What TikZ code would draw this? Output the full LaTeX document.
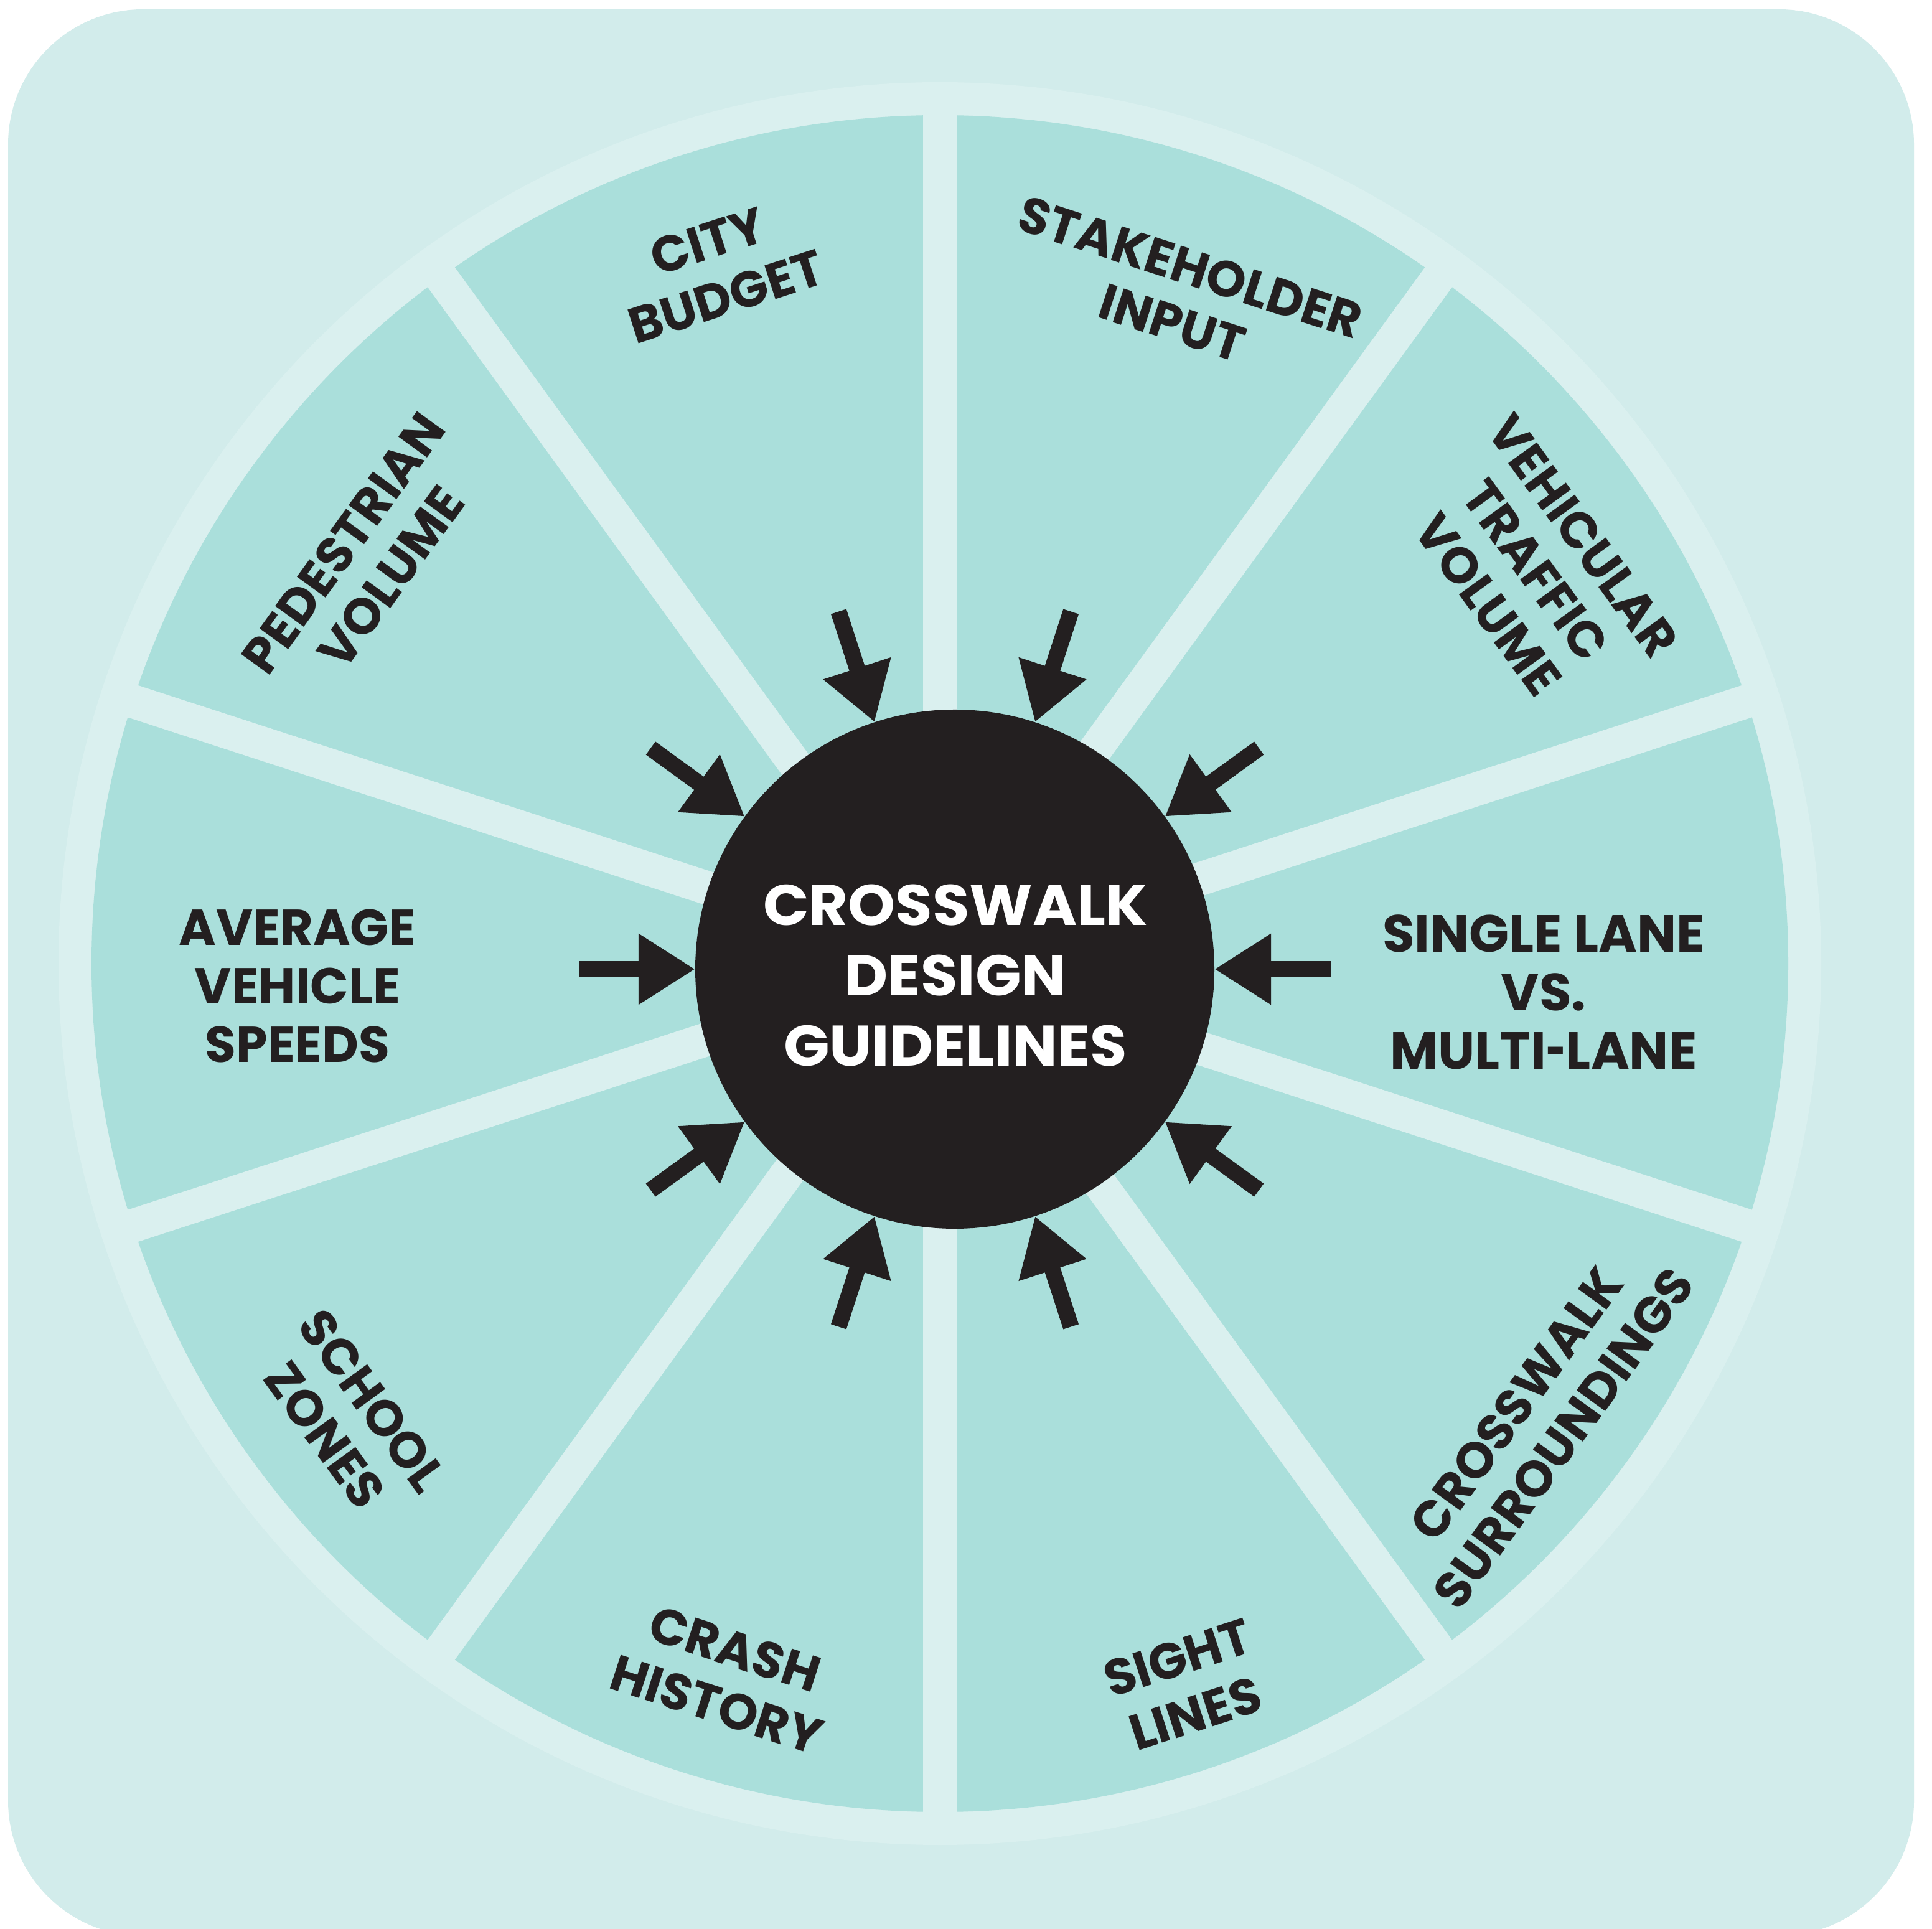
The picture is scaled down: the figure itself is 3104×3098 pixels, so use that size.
\documentclass[tikz,border=0pt]{standalone}
\usepackage{graphicx}
\usepackage{fontspec}
\setmainfont{Poppins}
\usetikzlibrary{arrows.meta,calc}
\definecolor{bgc}{HTML}{D2ECEB}
\definecolor{ringc}{HTML}{DAF0EF}
\definecolor{wedgec}{HTML}{AADFDB}
\definecolor{ink}{HTML}{231F20}
\newcommand{\ttlwide}[1]{\scalebox{1.05}[1]{#1}}
\newcommand{\shorthyph}{\scalebox{0.65}[1]{-}}
\begin{document}
\begin{tikzpicture}[x=1pt,y=1pt,
  lbl/.style={font=\fontsize{81}{94}\selectfont\bfseries, text=ink, align=center, inner sep=0pt},
  lblwide/.style={font=\fontsize{84}{94}\selectfont\bfseries, text=ink, align=center, inner sep=0pt},
  ttl/.style={font=\fontsize{92}{113}\selectfont\bfseries, text=white, align=center, inner sep=0pt},
  arr/.style={draw=ink, line width=26pt, -{Triangle[length=91pt,width=108pt,fill=ink]}},
  gapline/.style={draw=ringc, line width=54pt},
]
\useasboundingbox (0,0) rectangle (3104,3098);
\clip (0,0) rectangle (3104,3098);
\fill[white] (0,0) rectangle (3104,3098);
\fill[bgc, rounded corners=217pt] (13,-12) rectangle (3075,3083);
\coordinate (W) at (1510,1550);
\fill[ringc] (W) circle[radius=1416pt];
\fill[wedgec] (W) circle[radius=1363pt];
\foreach \a in {90,126,162,198,234}{
  \coordinate (ga\a) at ($(W)+(\a:1390)$);
  \coordinate (gb\a) at ($(W)+(\a+180:1390)$);
  \draw[gapline] (ga\a) -- (gb\a);
}
\node[circle, fill=ink, minimum size=834pt, inner sep=0pt] (core) at (1534,1541) {};
\node[ttl] (title) at (1535,1531) {\ttlwide{CROSSWALK}\\\ttlwide{DESIGN}\\\ttlwide{GUIDELINES}};
\foreach \a in {0,36,...,324}{
  \coordinate (tail\a) at ($(core.center)+(\a:604)$);
  \draw[arr] (tail\a) -- (core.\a);
}
\node[lbl, rotate=18] (city) at (1152,2666) {CITY\\BUDGET};
\node[lbl, rotate=-18] (stake) at (1898,2624) {STAKEHOLDER\\INPUT};
\node[lbl, rotate=-54] (vehic) at (2467,2182) {VEHICULAR\\TRAFFIC\\VOLUME};
\node[lblwide] (single) at (2480,1504) {SINGLE LANE\\VS.\\MULTI\shorthyph LANE};
\node[lbl] (avg) at (478,1514) {AVERAGE\\VEHICLE\\SPEEDS};
\node[lbl, rotate=54] (ped) at (590,2198) {PEDESTRIAN\\VOLUME};
\node[lbl, rotate=-54] (school) at (560,820) {SCHOOL\\ZONES};
\node[lbl, rotate=-18] (crash) at (1166,404) {CRASH\\HISTORY};
\node[lbl, rotate=18] (sight) at (1906,390) {SIGHT\\LINES};
\node[lbl, rotate=54] (surr) at (2474,815) {CROSSWALK\\SURROUNDINGS};
\end{tikzpicture}
\end{document}
